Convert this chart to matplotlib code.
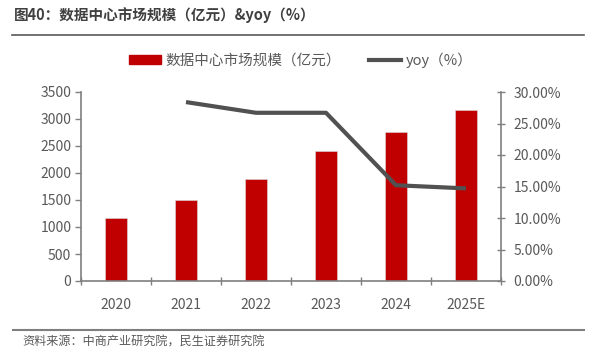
import matplotlib
matplotlib.use("Agg")
import matplotlib.pyplot as plt
from matplotlib.lines import Line2D
from matplotlib.patches import Patch
from matplotlib.ticker import FuncFormatter
import numpy as np

plt.rcParams['font.family'] = ['Noto Sans CJK SC', 'DejaVu Sans']

categories = ['2020', '2021', '2022', '2023', '2024', '2025E']
market_size = [1172, 1500, 1889, 2407, 2765, 3172]
yoy_years = ['2021', '2022', '2023', '2024', '2025E']
yoy = [28.4, 26.7, 26.7, 15.2, 14.7]

title = '图40：数据中心市场规模（亿元）&yoy（%）'
source = '资料来源：中商产业研究院，民生证券研究院'
bar_label = '数据中心市场规模（亿元）'
line_label = 'yoy（%）'

TXT = '#595959'
RED = '#C00000'
AX = '#7F7F7F'

fig = plt.figure(figsize=(5.92, 3.57), dpi=100)
W, H = 592, 357
ax = fig.add_axes([81 / W, 1 - 281 / H, 420 / W, 189 / H])
x = np.arange(len(categories))
ax.bar(x, market_size, width=0.31, color=RED, edgecolor='#D9D9D9', linewidth=0.4, zorder=2)
ax.set_xlim(-0.5, len(categories) - 0.5)
ax.set_ylim(0, 3500)
ax.set_yticks(np.arange(0, 3501, 500))
ax.set_xticks(x)
ax.set_xticklabels(categories)
ax.set_xticks(np.arange(-0.5, len(categories), 1), minor=True)
ax.tick_params(axis='x', which='major', length=0, pad=12, labelsize=10, labelcolor=TXT)
ax.tick_params(axis='x', which='minor', length=6, direction='inout', color=AX, width=1)
ax.tick_params(axis='y', length=4, direction='out', color=AX, width=1, labelsize=10, labelcolor=TXT, pad=3)
for s in ['top', 'right']:
    ax.spines[s].set_visible(False)
ax.spines['left'].set_color(AX)
ax.spines['bottom'].set_color(AX)
ax.spines['left'].set_linewidth(1.2)
ax.spines['bottom'].set_linewidth(1.2)

ax2 = ax.twinx()
xi = [categories.index(c) for c in yoy_years]
ax2.plot(xi, yoy, color='#515151', linewidth=3, zorder=3, solid_capstyle='butt')
ax2.set_ylim(0, 30)
ax2.set_yticks(np.arange(0, 30.01, 5))
ax2.yaxis.set_major_formatter(FuncFormatter(lambda v, p: f'{v:.2f}%'))
ax2.tick_params(axis='y', length=6, direction='inout', color=AX, width=1, labelsize=10, labelcolor=TXT, pad=6)
for s in ['top', 'left', 'bottom']:
    ax2.spines[s].set_visible(False)
ax2.spines['right'].set_color(AX)
ax2.spines['right'].set_linewidth(1.2)

handles = [Patch(facecolor=RED, edgecolor=RED),
           Line2D([0], [0], color='#515151', linewidth=3)]
fig.legend(handles, [bar_label, line_label], loc='center', bbox_to_anchor=(0.508, 1 - 60 / H),
           ncol=2, frameon=False, fontsize=10.5, labelcolor=TXT, handlelength=2.2,
           handleheight=0.5, columnspacing=1.9, handletextpad=0.35)

fig.text(14 / W, 1 - 15 / H, title, fontsize=10.5, fontweight='bold', color='#404040', va='center', ha='left')
fig.add_artist(Line2D([12 / W, 584 / W], [1 - 35 / H, 1 - 35 / H], color='#595959', linewidth=1.2))
fig.add_artist(Line2D([13 / W, 584 / W], [1 - 330 / H, 1 - 330 / H], color='#7F7F7F', linewidth=1.5))
fig.text(22 / W, 1 - 342 / H, source, fontsize=8.7, color=TXT, va='center', ha='left')

fig.savefig('out.png', dpi=100)
